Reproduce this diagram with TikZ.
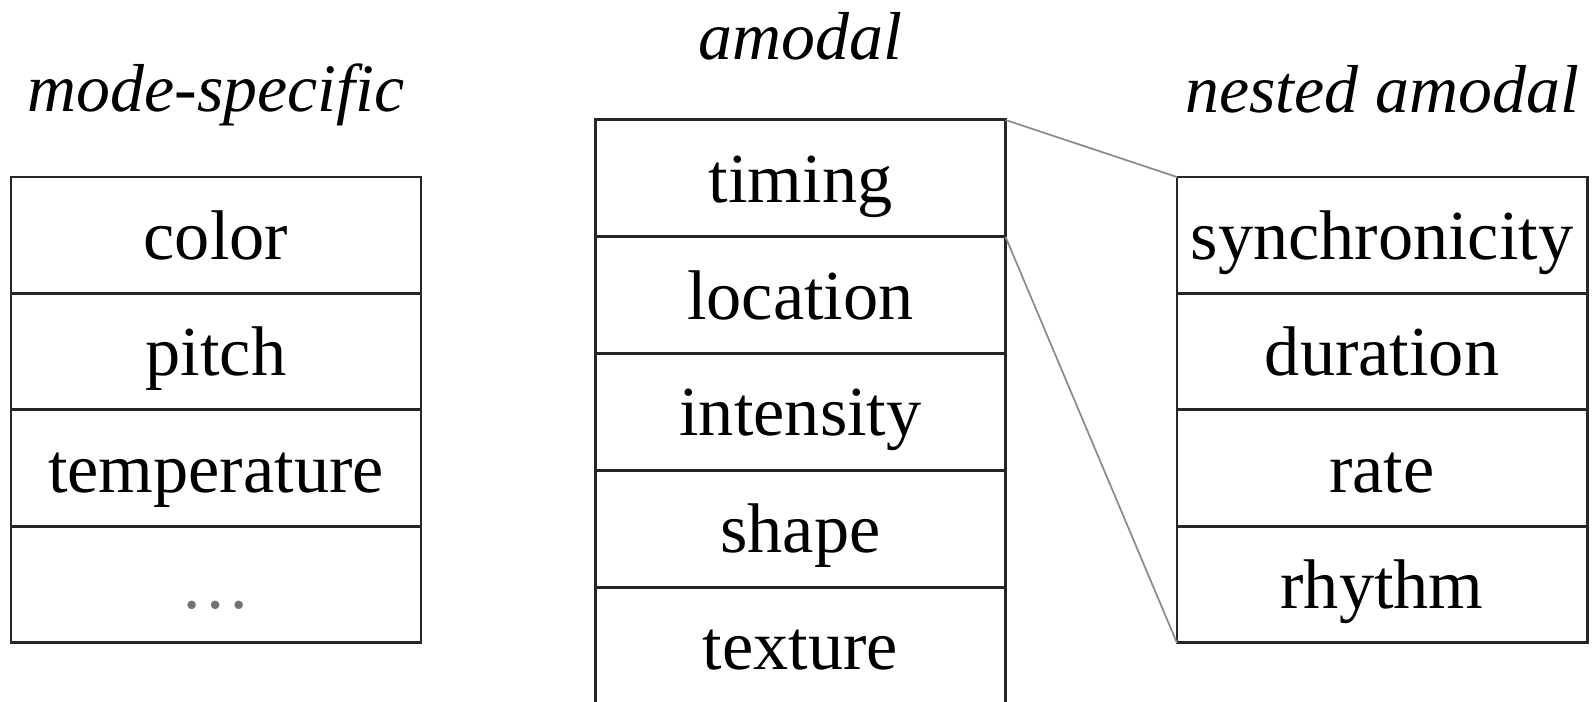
\documentclass[tikz,border=0pt]{standalone}
\usepackage{fontspec}
\setmainfont{Liberation Serif}
\usetikzlibrary{positioning}

\begin{document}
\begin{tikzpicture}[
  cell/.style={rectangle, draw=black!85, line width=0.85pt, outer sep=0pt,
               inner sep=0pt, minimum width=4.1cm, minimum height=1.165cm,
               text height=0.62cm, text depth=0.14cm,
               font=\fontsize{20}{24}\selectfont},
  tallcell/.style={cell, minimum height=1.168cm},
  head/.style={anchor=base, font=\fontsize{19.3}{23}\selectfont\itshape},
  zoomline/.style={line width=0.5pt, draw=black!45}
]
\useasboundingbox (0,0) rectangle (15.95,-7.02);

% mode-specific column
\node[cell, anchor=north] (ms1) at (2.16,-1.77) {color};
\node[cell, below=0pt of ms1] (ms2) {pitch};
\node[cell, below=0pt of ms2] (ms3) {temperature};
\node[cell, below=0pt of ms3] (ms4) {\color{black!55}\dots};

% amodal column (runs off the bottom edge)
\node[tallcell, anchor=north] (am1) at (8.005,-1.20) {timing};
\node[tallcell, below=0pt of am1] (am2) {location};
\node[tallcell, below=0pt of am2] (am3) {intensity};
\node[tallcell, below=0pt of am3] (am4) {shape};
\node[tallcell, below=0pt of am4] (am5) {texture};

% nested amodal column
\node[cell, anchor=north] (na1) at (13.82,-1.77) {synchronicity};
\node[cell, below=0pt of na1] (na2) {duration};
\node[cell, below=0pt of na2] (na3) {rate};
\node[cell, below=0pt of na3] (na4) {rhythm};

% headings
\node[head] (hms) at ([yshift=6.5mm]ms1.north) {mode-specific};
\node[head] (ham) at ([yshift=6.0mm]am1.north) {amodal};
\node[head] (hna) at ([yshift=6.4mm]na1.north) {nested amodal};

% timing expands into the nested column
\draw[zoomline] (am1.north east) -- (na1.north west);
\draw[zoomline] (am1.south east) -- (na4.south west);
\end{tikzpicture}
\end{document}
